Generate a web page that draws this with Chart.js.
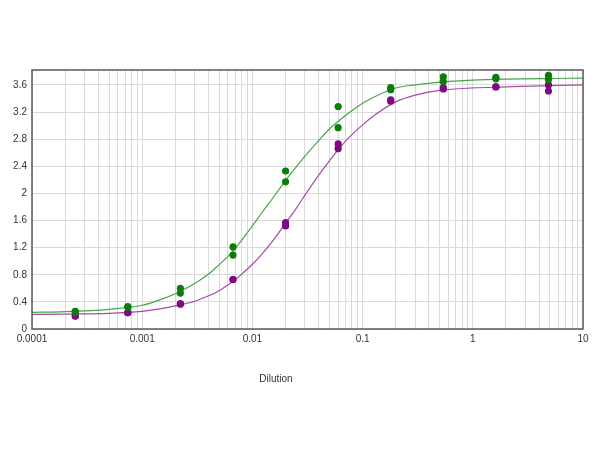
<!DOCTYPE html>
<html>
<head>
<meta charset="utf-8">
<script src="https://cdn.jsdelivr.net/npm/chart.js@4"></script>
<style>
    html, body { margin: 0; padding: 0; background: #fff; }
</style>
</head>
<body>
<canvas id="chart" width="600" height="450"></canvas>
<script>
// tick labels
const xTickLabels = ['0.0001', '0.001', '0.01', '0.1', '1', '10'];
const xDecades = [0.0001, 0.001, 0.01, 0.1, 1, 10];
const yTicks = [0, 0.4, 0.8, 1.2, 1.6, 2, 2.4, 2.8, 3.2, 3.6];
const yTickLabels = ['0', '0.4', '0.8', '1.2', '1.6', '2', '2.4', '2.8', '3.2', '3.6'];
const xTitle = 'Dilution';

// measured points (3-fold dilution series, duplicates)
const dilutions = [0.000247, 0.00074, 0.00222, 0.00667, 0.02, 0.06, 0.18, 0.54, 1.62, 4.86];
const greenRep1 = [0.26, 0.33, 0.60, 1.21, 2.33, 3.28, 3.56, 3.72, 3.71, 3.74];
const greenRep2 = [0.25, 0.32, 0.53, 1.09, 2.17, 2.97, 3.53, 3.65, 3.69, 3.68];
const purpleRep1 = [0.19, 0.24, 0.37, 0.73, 1.57, 2.73, 3.38, 3.56, 3.57, 3.60];
const purpleRep2 = [0.19, 0.24, 0.37, 0.73, 1.52, 2.66, 3.36, 3.54, 3.57, 3.51];

// fitted curves
const curveX = [0.0001, 0.0002, 0.0005, 0.001, 0.0015, 0.002, 0.003, 0.004, 0.005, 0.006,
    0.007, 0.008, 0.01, 0.012, 0.015, 0.02, 0.025, 0.03, 0.04, 0.05, 0.07, 0.1, 0.13,
    0.2, 0.3, 0.5, 1, 2, 5, 10];
const greenCurve = [0.245, 0.255, 0.29, 0.35, 0.44, 0.52, 0.67, 0.81, 0.95, 1.07,
    1.19, 1.31, 1.52, 1.70, 1.91, 2.19, 2.39, 2.55, 2.78, 2.95, 3.15, 3.33, 3.43,
    3.555, 3.60, 3.64, 3.67, 3.685, 3.695, 3.70];
const purpleCurve = [0.215, 0.22, 0.23, 0.26, 0.30, 0.34, 0.41, 0.49, 0.565, 0.65,
    0.73, 0.81, 0.955, 1.09, 1.28, 1.56, 1.78, 1.975, 2.27, 2.48, 2.77, 3.01, 3.16,
    3.35, 3.45, 3.52, 3.555, 3.57, 3.59, 3.60];

const greenDot = '#0b7d0b';
const purpleDot = '#7e0a80';
const greenLine = '#4aa34a';
const purpleLine = '#a44ca8';

function points(xs, ...series) {
    const out = [];
    series.forEach(s => s.forEach((y, i) => {
        if (y !== null) out.push({ x: xs[i], y: y });
    }));
    return out;
}

const tickFont = { family: "'Liberation Sans', Arial, sans-serif", size: 10 };

// frame around the plot area + the x title
const framePlugin = {
    id: 'frame',
    afterDraw(chart) {
        const { ctx, chartArea } = chart;
        ctx.save();
        ctx.strokeStyle = '#5a5a5a';
        ctx.lineWidth = 1.5;
        ctx.strokeRect(chartArea.left, chartArea.top, chartArea.right - chartArea.left, chartArea.bottom - chartArea.top);
        ctx.fillStyle = '#333';
        ctx.font = "10px 'Liberation Sans', Arial, sans-serif";
        ctx.textAlign = 'center';
        ctx.textBaseline = 'middle';
        ctx.fillText(xTitle, 276, 379);
        ctx.restore();
    }
};

const ctx = document.getElementById('chart');

new Chart(ctx, {
    type: 'scatter',
    data: {
        datasets: [
            {
                data: points(dilutions, greenRep1, greenRep2),
                backgroundColor: greenDot,
                borderWidth: 0,
                pointRadius: 3.6,
                order: 0
            },
            {
                data: points(dilutions, purpleRep1, purpleRep2),
                backgroundColor: purpleDot,
                borderWidth: 0,
                pointRadius: 3.6,
                order: 0
            },
            {
                data: points(curveX, greenCurve),
                showLine: true,
                borderColor: greenLine,
                borderWidth: 1.2,
                pointRadius: 0,
                cubicInterpolationMode: 'monotone',
                order: 1
            },
            {
                data: points(curveX, purpleCurve),
                showLine: true,
                borderColor: purpleLine,
                borderWidth: 1.2,
                pointRadius: 0,
                cubicInterpolationMode: 'monotone',
                order: 1
            }
        ]
    },
    options: {
        responsive: false,
        animation: false,
        layout: {
            padding: { top: 70, right: 17, left: 0, bottom: 0 }
        },
        plugins: {
            legend: { display: false },
            tooltip: { enabled: false }
        },
        scales: {
            x: {
                type: 'logarithmic',
                min: 0.0001,
                max: 10,
                afterBuildTicks: (scale) => {
                    const ticks = [];
                    xDecades.forEach((d, k) => {
                        const last = k === xDecades.length - 1;
                        for (let m = 1; m <= (last ? 1 : 9); m++) {
                            ticks.push({ value: d * m, major: m === 1, decade: k });
                        }
                    });
                    scale.ticks = ticks;
                },
                afterFit: (scale) => {
                    scale.height = 121;
                    scale.paddingLeft = 0;
                    scale.paddingRight = 0;
                },
                grid: { color: '#dadada', lineWidth: 1, drawTicks: false },
                border: { display: false },
                ticks: {
                    autoSkip: false,
                    maxRotation: 0,
                    padding: 4,
                    color: '#333',
                    font: tickFont,
                    callback: function (value, index, ticks) {
                        const t = ticks[index];
                        return t.major ? xTickLabels[t.decade] : '';
                    }
                }
            },
            y: {
                min: 0,
                max: 3.82,
                afterBuildTicks: (scale) => {
                    scale.ticks = yTicks.map((v, i) => ({ value: v, idx: i }));
                },
                afterFit: (scale) => {
                    scale.width = 32;
                    scale.paddingTop = 0;
                    scale.paddingBottom = 0;
                },
                grid: { color: '#dadada', lineWidth: 1, drawTicks: false },
                border: { display: false },
                ticks: {
                    padding: 5,
                    color: '#333',
                    font: tickFont,
                    callback: function (value, index, ticks) {
                        return yTickLabels[ticks[index].idx];
                    }
                }
            }
        }
    },
    plugins: [framePlugin]
});
</script>
</body>
</html>
